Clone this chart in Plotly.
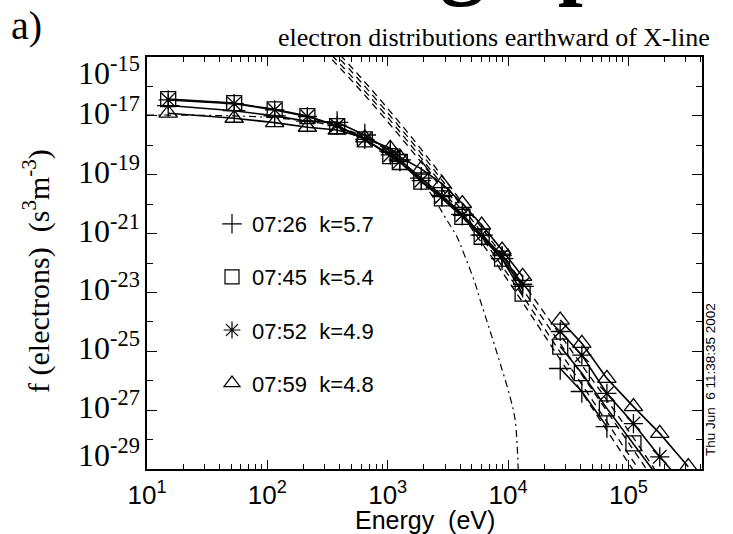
import plotly.graph_objects as go

# ---- energy channels (eV) ----
low_energy = [15, 53, 115, 215, 380, 645, 1050, 1260, 1900, 2820, 4170, 6030, 8910, 13200]
high_energy = [27100, 41000, 66200, 110000, 182000, 314000]

# ---- phase-space density f (s^3 m^-3) for each time ----
f_0726_low = [2.24e-17, 1.5e-17, 1.0e-17, 6.6e-18, 6.0e-18, 2.24e-18, 6.3e-19, 3.2e-19,
              7.6e-20, 2.0e-20, 4.5e-21, 8.9e-22, 1.4e-22, 1.6e-23]
f_0726_high = [2.6e-26, 4.3e-27, 2.75e-28]

f_0745_low = [3.7e-17, 2.7e-17, 1.66e-17, 9.8e-18, 4.5e-18, 1.58e-18, 4.3e-19, 2.7e-19,
              5.8e-20, 1.58e-20, 3.7e-21, 7.8e-22, 1.4e-22, 9.1e-24]
f_0745_high = [1.45e-25, 1.8e-26, 1.15e-27, 7.4e-29, 4.5e-30]

f_0752_low = [3.5e-17, 2.6e-17, 1.6e-17, 9.5e-18, 4.7e-18, 1.6e-18, 4.7e-19, 2.8e-19,
              6.3e-20, 1.8e-20, 4.2e-21, 8.9e-22, 1.8e-22, 1.9e-23]
f_0752_high = [4.7e-25, 7.4e-26, 3.7e-27, 3.5e-28, 2.6e-29, 2.0e-30]

f_0759_low = [1.23e-17, 8.3e-18, 5.9e-18, 4.1e-18, 3.3e-18, 1.78e-18, 7.9e-19, 4.0e-19,
              1.58e-19, 5.0e-20, 1.05e-20, 1.95e-21, 2.75e-22, 3.5e-23]
f_0759_high = [1.15e-24, 1.86e-25, 1.2e-26, 1.32e-27, 1.62e-28, 1.2e-29]

# ---- kappa fits (dashed) ----
fit_energy = [250, 500, 1000, 2000, 4000, 10000, 30000, 100000, 300000]
fit_0726 = [3.2e-15, 1.6e-16, 6.3e-18, 2.0e-19, 5.0e-21, 2.5e-23, 2.8e-26, 1.6e-29, 2.0e-32]
fit_0745 = [4.5e-15, 2.2e-16, 8.9e-18, 2.8e-19, 7.1e-21, 4.0e-23, 5.0e-26, 3.2e-29, 4.0e-32]
fit_0752 = [6.3e-15, 3.2e-16, 1.26e-17, 4.0e-19, 1.0e-20, 6.3e-23, 1.0e-25, 7.9e-29, 1.0e-31]
fit_0759 = [8.9e-15, 4.5e-16, 1.78e-17, 5.6e-19, 1.4e-20, 1.0e-22, 2.0e-25, 2.0e-28, 2.5e-31]

# ---- Maxwellian core (dash-dot) ----
maxw_energy = [10, 100, 316, 631, 1000, 1585, 2240, 3090, 3760, 4400, 5330, 5860,
               7100, 8590, 10400, 11460, 11890, 12130]
maxw_f = [1.07e-17, 8.9e-18, 5.0e-18, 2.0e-18, 6.3e-19, 1.26e-19, 2.5e-20, 2.9e-21,
          7.8e-22, 1.6e-22, 2.0e-23, 5.5e-24, 4.8e-25, 3.9e-26, 2.75e-27, 4.5e-28,
          6.3e-29, 1.0e-29]

# ---- labels ----
times = ["07:26", "07:45", "07:52", "07:59"]
kappas = ["5.7", "5.4", "4.9", "4.8"]
symbols = ["cross-thin-open", "square-open", "asterisk-open", "triangle-up-open"]
sizes = [16, 15, 16, 16]
x_tick_exp = [1, 2, 3, 4, 5]
y_tick_exp = [-29, -27, -25, -23, -21, -19, -17, -15]

series_low = [f_0726_low, f_0745_low, f_0752_low, f_0759_low]
series_high = [f_0726_high, f_0745_high, f_0752_high, f_0759_high]
fits = [fit_0726, fit_0745, fit_0752, fit_0759]

SERIF = "Liberation Serif, Times New Roman, serif"
SANS = "Liberation Sans, Arial, Helvetica, sans-serif"

# plot-area pixel frame used for placing text
L, R, T, B = 147, 702, 57, 469
W, H = R - L, B - T


def px(x):
    return (x - L) / W


def py(y):
    return (B - y) / H


fig = go.Figure()

# kappa fits
for fv in fits:
    fig.add_trace(go.Scatter(
        x=fit_energy, y=fv, mode="lines",
        line=dict(color="black", width=1.3, dash="7px,5px", shape="spline"),
        showlegend=False, hoverinfo="skip"))

# Maxwellian
fig.add_trace(go.Scatter(
    x=maxw_energy, y=maxw_f, mode="lines",
    line=dict(color="black", width=1.2, dash="7px,4px,2px,4px", shape="spline"),
    showlegend=False, hoverinfo="skip"))

# measured spectra
for i in range(4):
    xs = low_energy + [None] + high_energy[:len(series_high[i])]
    ys = series_low[i] + [None] + series_high[i]
    fig.add_trace(go.Scatter(
        x=xs, y=ys, mode="lines+markers", connectgaps=False,
        line=dict(color="black", width=1.6),
        marker=dict(symbol=symbols[i], size=sizes[i], color="black",
                    line=dict(color="black", width=1.3)),
        showlegend=False))

# legend entries (symbol only)
for i in range(4):
    fig.add_trace(go.Scatter(
        x=[None], y=[None], mode="markers", legendgroup=f"g{i}",
        name=f"{times[i]}\u00a0\u00a0k={kappas[i]}",
        marker=dict(symbol=symbols[i], size=14, color="black",
                    line=dict(color="black", width=1.2))))

minor_x = [m * 10 ** e for e in range(1, 6) for m in range(2, 10)]

fig.update_xaxes(
    type="log", range=[1, 5.611],
    showline=True, linecolor="black", linewidth=1.5, mirror="allticks",
    ticks="inside", ticklen=9, tickwidth=1.3, tickcolor="black",
    tickvals=[10 ** e for e in x_tick_exp],
    ticktext=[f"10<sup>{e}</sup>" for e in x_tick_exp],
    tickfont=dict(family=SANS, size=26, color="black"),
    ticklabelstandoff=2,
    minor=dict(tickvals=minor_x, ticks="inside", ticklen=5, tickwidth=1.1, tickcolor="black"),
    showgrid=False, zeroline=False)

fig.update_yaxes(
    type="log", range=[-29, -15],
    showline=True, linecolor="black", linewidth=1.5, mirror="allticks",
    ticks="inside", ticklen=10, tickwidth=1.3, tickcolor="black",
    tickvals=[10.0 ** e for e in y_tick_exp], showticklabels=False,
    minor=dict(tickvals=[10.0 ** e for e in range(-28, -15, 2)], ticks="inside",
               ticklen=6, tickwidth=1.1, tickcolor="black"),
    showgrid=False, zeroline=False)

annotations = []
# y tick labels, end labels nudged inward
for e in y_tick_exp:
    shift = 5
    if e == -15:
        shift = -14
    elif e == -29:
        shift = 16
    annotations.append(dict(
        x=0, xref="paper", y=e, yref="y", xanchor="right", yanchor="middle",
        xshift=-5, yshift=shift, showarrow=False,
        text=f"10<sup>{e}</sup>", font=dict(family=SERIF, size=32, color="black")))

annotations += [
    dict(x=px(36), xref="paper", y=py(271), yref="paper", textangle=-90, showarrow=False,
         xanchor="center", yanchor="middle",
         text="f (electrons)\u00a0\u00a0(s<sup>3</sup>m<sup>-3</sup>)",
         font=dict(family=SERIF, size=30, color="black")),
    dict(x=0.5, xref="paper", y=py(520), yref="paper", showarrow=False,
         xanchor="center", yanchor="middle", text="Energy\u00a0\u00a0(eV)",
         font=dict(family=SANS, size=25, color="black")),
    dict(x=px(712), xref="paper", y=py(37), yref="paper", showarrow=False,
         xanchor="right", yanchor="middle", text="electron distributions earthward of X-line",
         font=dict(family=SERIF, size=26, color="black")),
    dict(x=px(9), xref="paper", y=py(26), yref="paper", showarrow=False,
         xanchor="left", yanchor="middle", text="a)",
         font=dict(family=SERIF, size=40, color="black")),
    dict(x=px(710), xref="paper", y=py(380), yref="paper", showarrow=False,
         textangle=-90, xanchor="center", yanchor="middle", text="Thu Jun\u00a0\u00a06 11:38:35 2002",
         font=dict(family=SANS, size=13.5, color="black")),
    # slide heading, sitting above the top edge of the page
    dict(x=px(143), xref="paper", y=py(9.5), yref="paper", showarrow=False,
         xanchor="left", yanchor="bottom", text="<b>Evolving Spectra</b>",
         font=dict(family=SERIF, size=90, color="black")),
]

fig.update_layout(
    width=733, height=534,
    margin=dict(l=L, r=733 - R, t=T, b=534 - B),
    paper_bgcolor="white", plot_bgcolor="white",
    annotations=annotations,
    showlegend=True,
    legend=dict(x=px(212), y=py(203), xanchor="left", yanchor="top",
                bgcolor="rgba(0,0,0,0)", borderwidth=0,
                font=dict(family=SANS, size=22, color="black"),
                traceorder="grouped", tracegroupgap=21.5, itemwidth=30),
)

fig.write_html("out.html")
